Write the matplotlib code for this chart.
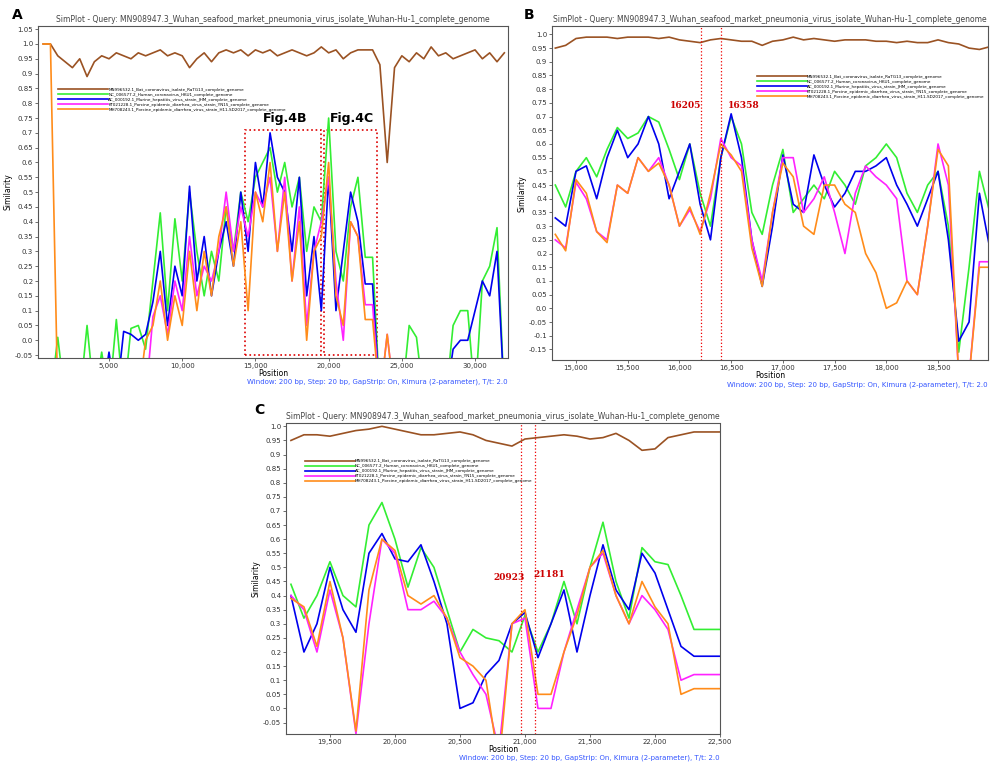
import numpy as np
import matplotlib.pyplot as plt
from matplotlib.ticker import FuncFormatter, MultipleLocator

names = ["MN996532.1_Bat_coronavirus_isolate_RaTG13_complete_genome",
         "NC_006577.2_Human_coronavirus_HKU1_complete_genome",
         "AC_000192.1_Murine_hepatitis_virus_strain_JHM_complete_genome",
         "KT021228.1_Porcine_epidemic_diarrhea_virus_strain_YN15_complete_genome",
         "MH708243.1_Porcine_epidemic_diarrhea_virus_strain_H11-SD2017_complete_genome"]
colors = ["#9a5223", "#33ee33", "#0000ee", "#ff22ff", "#ff8c1a"]
title = "SimPlot - Query: MN908947.3_Wuhan_seafood_market_pneumonia_virus_isolate_Wuhan-Hu-1_complete_genome"
footer = "Window: 200 bp, Step: 20 bp, GapStrip: On, Kimura (2-parameter), T/t: 2.0"

# panel A: full genome, every 500 bp (values under -0.05 fall off the axis)
pos_a = np.arange(500, 32001, 500)
brown_a = [1.0, 1.0, 0.96, 0.94, 0.92, 0.95, 0.89, 0.94, 0.96, 0.95, 0.97, 0.96, 0.95, 0.97, 0.96, 0.97,
           0.98, 0.96, 0.97, 0.96, 0.92, 0.95, 0.97, 0.94, 0.97, 0.98, 0.97, 0.98, 0.96, 0.98, 0.97, 0.98,
           0.96, 0.97, 0.98, 0.97, 0.96, 0.97, 0.99, 0.97, 0.98, 0.95, 0.97, 0.98, 0.98, 0.98, 0.93, 0.6,
           0.92, 0.96, 0.94, 0.97, 0.95, 0.99, 0.96, 0.97, 0.95, 0.96, 0.97, 0.98, 0.95, 0.97, 0.94, 0.97]
green_a = [-0.2, -0.2, 0.01, -0.2, -0.2, -0.2, 0.05, -0.2, -0.04, -0.2, 0.07, -0.2, 0.04, 0.05, -0.03, 0.2,
           0.43, 0.1, 0.41, 0.2, 0.5, 0.3, 0.15, 0.3, 0.2, 0.45, 0.3, 0.5, 0.4, 0.55, 0.6, 0.65,
           0.5, 0.6, 0.45, 0.55, 0.3, 0.45, 0.4, 0.75, 0.3, 0.2, 0.45, 0.55, 0.28, 0.28, -0.2, -0.2,
           -0.2, -0.2, 0.05, 0.01, -0.2, -0.2, -0.2, -0.2, 0.05, 0.1, 0.1, -0.2, 0.2, 0.25, 0.38, -0.2]
blue_a = [-0.2, -0.2, -0.2, -0.2, -0.2, -0.2, -0.2, -0.2, -0.2, -0.04, -0.2, 0.03, 0.02, 0.0, 0.02, 0.13,
          0.3, 0.05, 0.25, 0.15, 0.52, 0.2, 0.35, 0.15, 0.3, 0.4, 0.25, 0.5, 0.3, 0.6, 0.45, 0.7,
          0.55, 0.5, 0.3, 0.55, 0.15, 0.35, 0.1, 0.55, 0.1, 0.3, 0.5, 0.4, 0.19, 0.19, -0.2, -0.2,
          -0.2, -0.2, -0.2, -0.2, -0.2, -0.2, -0.2, -0.2, -0.03, 0.0, 0.0, 0.1, 0.2, 0.15, 0.3, -0.2]
magenta_a = [-0.2, -0.2, -0.2, -0.2, -0.2, -0.2, -0.2, -0.2, -0.2, -0.2, -0.2, -0.2, -0.2, -0.2, -0.2, 0.08,
             0.15, 0.02, 0.2, 0.1, 0.35, 0.15, 0.25, 0.2, 0.3, 0.5, 0.3, 0.45, 0.35, 0.5, 0.45, 0.55,
             0.3, 0.55, 0.2, 0.45, 0.05, 0.3, 0.4, 0.55, 0.2, 0.0, 0.4, 0.35, 0.12, 0.12, -0.2, 0.02,
             -0.2, -0.2, -0.2, -0.2, -0.2, -0.2, -0.2, -0.2, -0.2, -0.2, -0.2, -0.2, -0.2, -0.2, -0.2, -0.2]
orange_a = [1.0, 1.0, -0.2, -0.2, -0.2, -0.2, -0.2, -0.2, -0.2, -0.2, -0.2, -0.2, -0.2, -0.2, 0.0, 0.05,
            0.2, 0.0, 0.15, 0.05, 0.3, 0.1, 0.3, 0.15, 0.35, 0.45, 0.25, 0.4, 0.1, 0.5, 0.4, 0.6,
            0.3, 0.5, 0.2, 0.4, 0.0, 0.3, 0.35, 0.6, 0.15, 0.05, 0.4, 0.35, 0.07, 0.07, -0.2, 0.02,
            -0.2, -0.2, -0.2, -0.2, -0.2, -0.2, -0.2, -0.2, -0.2, -0.2, -0.2, -0.2, -0.2, -0.2, -0.2, -0.2]

# panel B: 14,800-19,000 every 100 bp
pos_b = np.arange(14800, 19001, 100)
brown_b = [0.95, 0.96, 0.985, 0.99, 0.99, 0.99, 0.985, 0.99, 0.99, 0.99, 0.985, 0.99, 0.98, 0.975, 0.97,
           0.98, 0.985, 0.98, 0.975, 0.975, 0.96, 0.975, 0.98, 0.99, 0.98, 0.985, 0.98, 0.975, 0.98, 0.98,
           0.98, 0.975, 0.975, 0.97, 0.975, 0.97, 0.97, 0.98, 0.97, 0.965, 0.95, 0.945, 0.955]
green_b = [0.45, 0.37, 0.5, 0.55, 0.48, 0.58, 0.66, 0.62, 0.64, 0.7, 0.68, 0.58, 0.47, 0.6, 0.42,
           0.3, 0.55, 0.7, 0.6, 0.35, 0.27, 0.45, 0.58, 0.35, 0.4, 0.45, 0.4, 0.5, 0.45, 0.38,
           0.52, 0.55, 0.6, 0.55, 0.42, 0.35, 0.45, 0.5, 0.3, -0.16, 0.15, 0.5, 0.35]
blue_b = [0.33, 0.3, 0.5, 0.52, 0.4, 0.55, 0.65, 0.55, 0.6, 0.7, 0.6, 0.4, 0.5, 0.6, 0.38,
          0.25, 0.55, 0.71, 0.55, 0.25, 0.08, 0.3, 0.56, 0.38, 0.35, 0.56, 0.45, 0.37, 0.42, 0.5,
          0.5, 0.52, 0.55, 0.45, 0.38, 0.3, 0.4, 0.5, 0.25, -0.12, -0.05, 0.42, 0.22]
magenta_b = [0.25, 0.22, 0.46, 0.4, 0.28, 0.25, 0.45, 0.42, 0.55, 0.5, 0.55, 0.45, 0.3, 0.36, 0.28,
             0.4, 0.62, 0.55, 0.52, 0.25, 0.1, 0.35, 0.55, 0.55, 0.35, 0.4, 0.48, 0.35, 0.2, 0.42,
             0.52, 0.48, 0.45, 0.4, 0.1, 0.05, 0.3, 0.6, 0.45, -0.25, -0.25, 0.17, 0.17]
orange_b = [0.27, 0.21, 0.47, 0.42, 0.28, 0.24, 0.45, 0.42, 0.55, 0.5, 0.53, 0.45, 0.3, 0.37, 0.27,
            0.42, 0.6, 0.56, 0.5, 0.22, 0.08, 0.35, 0.53, 0.48, 0.3, 0.27, 0.45, 0.45, 0.38, 0.35,
            0.2, 0.13, 0.0, 0.02, 0.1, 0.05, 0.3, 0.58, 0.52, -0.25, -0.25, 0.15, 0.15]

# panel C: 19,200-22,500 every 100 bp
pos_c = np.arange(19200, 22501, 100)
brown_c = [0.95, 0.97, 0.97, 0.965, 0.975, 0.985, 0.99, 1.0, 0.99, 0.98, 0.97, 0.97, 0.975, 0.98, 0.97,
           0.95, 0.94, 0.93, 0.955, 0.96, 0.965, 0.97, 0.965, 0.955, 0.96, 0.975, 0.95, 0.915, 0.92, 0.96,
           0.97, 0.98, 0.98, 0.98]
green_c = [0.44, 0.32, 0.4, 0.52, 0.4, 0.36, 0.65, 0.73, 0.6, 0.43, 0.57, 0.5, 0.35, 0.2, 0.28,
           0.25, 0.24, 0.2, 0.33, 0.2, 0.3, 0.45, 0.3, 0.5, 0.66, 0.45, 0.32, 0.57, 0.52, 0.51,
           0.4, 0.28, 0.28, 0.28]
blue_c = [0.4, 0.2, 0.3, 0.5, 0.35, 0.27, 0.55, 0.62, 0.53, 0.52, 0.58, 0.45, 0.3, 0.0, 0.02,
          0.12, 0.17, 0.3, 0.34, 0.18, 0.3, 0.42, 0.2, 0.4, 0.58, 0.42, 0.35, 0.55, 0.48, 0.35,
          0.22, 0.185, 0.185, 0.185]
magenta_c = [0.4, 0.35, 0.2, 0.42, 0.25, -0.09, 0.3, 0.6, 0.55, 0.35, 0.35, 0.38, 0.32, 0.2, 0.12,
             0.05, -0.15, 0.3, 0.32, 0.0, 0.0, 0.2, 0.35, 0.5, 0.55, 0.4, 0.3, 0.4, 0.35, 0.28,
             0.1, 0.12, 0.12, 0.12]
orange_c = [0.39, 0.36, 0.22, 0.45, 0.25, -0.08, 0.42, 0.6, 0.56, 0.4, 0.37, 0.4, 0.32, 0.18, 0.15,
            0.1, -0.2, 0.3, 0.35, 0.05, 0.05, 0.2, 0.33, 0.5, 0.56, 0.4, 0.3, 0.45, 0.36, 0.3,
            0.05, 0.07, 0.07, 0.07]

fig = plt.figure(figsize=(10, 7.7), dpi=100)


def ytick(v, _):
    s = f"{v:.2f}".rstrip("0")
    return s + "0" if s.endswith(".") else s


def panel(rect, pos, series, xlim, ylim, xstep, letter, lx, ly, legend_loc, legend_anchor):
    ax = fig.add_axes(rect)
    for vals, c, n in zip(series, colors, names):
        ax.plot(pos, vals, color=c, lw=1.2, label=n)
    ax.set_xlim(*xlim)
    ax.set_ylim(*ylim)
    ax.xaxis.set_major_locator(MultipleLocator(xstep))
    ax.yaxis.set_major_locator(MultipleLocator(0.05))
    ax.xaxis.set_major_formatter(FuncFormatter(lambda v, _: f"{int(v):,}"))
    ax.yaxis.set_major_formatter(FuncFormatter(ytick))
    ax.tick_params(labelsize=5, length=2, width=0.5, pad=1.5, colors="#333333")
    for s in ax.spines.values():
        s.set_linewidth(0.8)
        s.set_color("#555555")
    ax.set_title(title, fontsize=5.5, color="#444444", pad=3)
    ax.set_xlabel("Position", fontsize=5.5, labelpad=0)
    ax.set_ylabel("Similarity", fontsize=5.5, labelpad=2)
    ax.legend(loc=legend_loc, bbox_to_anchor=legend_anchor, frameon=False, fontsize=3.0,
              handlelength=12, handletextpad=0, labelspacing=0.25, borderaxespad=0)
    fig.text(lx, ly, letter, fontsize=10, fontweight="bold")
    pos_box = ax.get_position()
    fig.text(pos_box.x1, pos_box.y0 - 0.027, footer, fontsize=5, color="#3355ff", ha="right", va="top")
    return ax


ax_a = panel([0.038, 0.535, 0.47, 0.431], pos_a, [brown_a, green_a, blue_a, magenta_a, orange_a],
             (150, 32250), (-0.06, 1.06), 5000, "A", 0.012, 0.975, "upper left", (0.04, 0.82))
ax_a.add_patch(plt.Rectangle((14300, -0.05), 5200, 0.76, fill=False, ec="#dd0000", ls=":", lw=1.2))
ax_a.add_patch(plt.Rectangle((19650, -0.05), 3650, 0.76, fill=False, ec="#dd0000", ls=":", lw=1.2))
ax_a.text(17000, 0.735, "Fig.4B", fontsize=9, fontweight="bold", ha="center")
ax_a.text(21600, 0.735, "Fig.4C", fontsize=9, fontweight="bold", ha="center")

ax_b = panel([0.552, 0.532, 0.436, 0.434], pos_b, [brown_b, green_b, blue_b, magenta_b, orange_b],
             (14768, 18983), (-0.19, 1.03), 500, "B", 0.524, 0.975, "upper right", (0.995, 0.86))
for xv in (16213, 16397):
    ax_b.axvline(xv, color="#ee0000", ls=":", lw=0.9)
ax_b.text(16060, 0.73, "16205", color="#cc0000", fontsize=6.5, fontweight="bold", family="DejaVu Serif", ha="center")
ax_b.text(16620, 0.73, "16358", color="#cc0000", fontsize=6.5, fontweight="bold", family="DejaVu Serif", ha="center")

ax_c = panel([0.286, 0.047, 0.434, 0.403], pos_c, [brown_c, green_c, blue_c, magenta_c, orange_c],
             (19162, 22500), (-0.09, 1.01), 500, "C", 0.254, 0.462, "upper left", (0.04, 0.89))
for xv in (20966, 21080):
    ax_c.axvline(xv, color="#ee0000", ls=":", lw=0.9)
ax_c.text(20880, 0.455, "20923", color="#cc0000", fontsize=6.5, fontweight="bold", family="DejaVu Serif", ha="center")
ax_c.text(21190, 0.465, "21181", color="#cc0000", fontsize=6.5, fontweight="bold", family="DejaVu Serif", ha="center")

fig.savefig("out.png", dpi=100)
